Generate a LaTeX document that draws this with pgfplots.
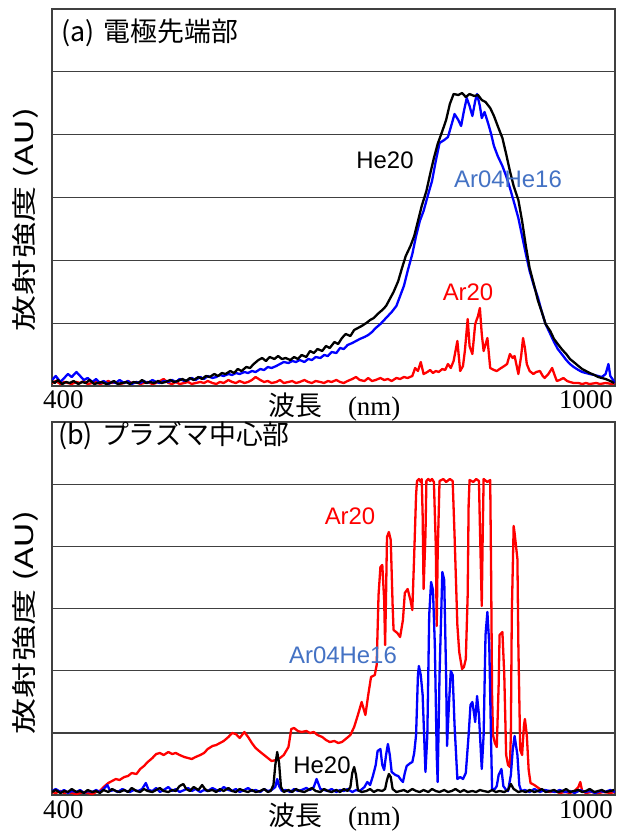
\documentclass[border=0pt]{standalone}
\usepackage{pgfplots}
\pgfplotsset{compat=1.18}
\usepackage{fontspec}
\setmainfont{Liberation Serif}
\newfontfamily\cjk{Noto Sans CJK JP}
\newfontfamily\arial{Liberation Sans}
\definecolor{lblblue}{HTML}{4472C4}
\definecolor{framegray}{HTML}{404040}
\pgfplotsset{
  myax/.style={
    scale only axis, width=563bp,
    xmin=400, xmax=1000, ymin=0,
    xtick=\empty, yticklabels={}, major tick length=0pt,
    ymajorgrids, grid style={line width=1.4bp, color=framegray},
    axis line style={line width=1.5bp, color=framegray},
    every axis plot/.append style={line width=2.3bp, line join=round, mark=none},
  }
}
\begin{document}
\begin{tikzpicture}
\path[use as bounding box] (0bp,0bp) rectangle (618bp,-835bp);
% ---------------- (a) ----------------
\begin{axis}[myax, at={(52bp,-386bp)}, anchor=south west, height=377bp, ymax=377,
  ytick={62.8,125.7,188.5,251.3,314.2}]
\addplot[red] coordinates {(400,3) (404,5) (409,2) (413,4) (417,3) (421,2) (426,4) (430,3) (434,5) (438,2) (443,3) (447,4) (451,2) (455,3) (460,5) (464,3) (468,4) (472,2) (477,3) (481,5) (485,3) (490,4) (494,2) (498,3) (502,4) (507,2) (511,3) (515,5) (519,7) (524,3) (528,2) (532,4) (536,2) (541,3) (545,4) (549,2) (553,3) (558,4) (562,3) (566,5) (571,3) (575,2) (579,4) (583,3) (588,6) (592,4) (596,3) (600,5) (605,3) (609,4) (613,6) (617,9) (622,6) (626,4) (630,5) (634,3) (639,4) (643,6) (647,3) (652,4) (656,5) (660,3) (664,4) (669,6) (673,4) (677,3) (681,5) (686,4) (690,3) (694,5) (698,4) (703,6) (707,4) (711,3) (715,5) (720,7) (724,9) (728,6) (733,5) (737,8) (741,5) (745,6) (750,8) (754,6) (758,7) (762,5) (767,8) (771,7) (775,9) (779,8) (784,10) (787,18) (790,15) (793,24) (796,12) (800,14) (803,16) (806,13) (809,15) (812,14) (816,17) (819,16) (822,22) (825,18) (828,25) (832,45) (835,15) (838,20) (840,35) (843,67) (845,40) (848,32) (851,62) (854,70) (856,78) (858,52) (860,35) (864,48) (867,18) (871,16) (874,15) (877,17) (882,20) (885,22) (888,32) (891,28) (893,30) (897,12) (900,30) (902,48) (904,38) (906,22) (909,15) (913,12) (916,14) (920,15) (923,10) (925,8) (929,12) (933,18) (936,10) (938,5) (941,6) (945,8) (949,5) (952,4) (956,3) (961,3) (965,2) (969,3) (973,2) (980,3) (984,2) (990,3) (997,2) (1000,3)};
\addplot[blue] coordinates {(400,6) (404,10) (409,4) (413,8) (417,12) (421,9) (426,14) (430,10) (434,6) (438,8) (443,4) (447,7) (451,3) (455,5) (460,2) (464,4) (468,3) (472,6) (477,3) (481,5) (485,2) (490,4) (494,3) (498,5) (502,3) (507,6) (511,4) (515,3) (519,5) (524,4) (528,6) (532,4) (536,7) (541,5) (545,6) (549,8) (553,6) (558,9) (562,7) (566,10) (571,8) (575,9) (579,11) (583,10) (588,12) (592,11) (596,13) (600,12) (605,14) (609,13) (613,15) (617,14) (622,17) (626,16) (630,19) (634,18) (639,20) (643,22) (647,24) (652,23) (656,25) (660,24) (664,26) (669,24) (673,27) (677,26) (681,29) (686,28) (690,31) (694,30) (698,34) (703,33) (707,38) (711,37) (715,41) (720,43) (724,45) (728,47) (733,49) (737,51) (741,54) (745,58) (750,62) (754,66) (758,70) (762,74) (767,80) (771,90) (775,100) (779,115) (784,132) (788,150) (792,165) (796,175) (801,192) (805,205) (809,225) (813,243) (818,246) (822,249) (826,262) (829,272) (833,266) (836,260) (839,275) (842,288) (845,280) (848,270) (851,285) (853,292) (856,280) (858,268) (861,274) (865,262) (868,252) (871,240) (875,230) (880,220) (884,210) (888,198) (892,185) (897,168) (901,150) (905,132) (909,115) (913,102) (918,88) (922,74) (926,62) (931,52) (935,44) (939,37) (944,31) (948,26) (952,22) (956,19) (961,16) (965,14) (969,13) (973,12) (978,11) (982,10) (986,9) (990,12) (993,22) (995,10) (998,6) (1000,3)};
\addplot[black] coordinates {(400,5) (403,3) (406,6) (411,2) (415,4) (419,3) (423,5) (428,2) (432,4) (436,3) (440,6) (445,2) (449,3) (453,4) (458,2) (462,3) (466,5) (470,2) (475,3) (479,4) (483,2) (487,4) (492,3) (496,6) (500,3) (504,4) (509,3) (513,5) (517,3) (521,4) (526,6) (530,4) (534,5) (539,7) (543,5) (547,8) (551,6) (556,9) (560,7) (564,10) (568,9) (573,12) (577,10) (581,13) (585,12) (590,15) (594,13) (598,17) (602,15) (607,19) (611,18) (615,22) (620,26) (624,28) (628,25) (632,29) (637,27) (641,30) (645,27) (649,28) (654,26) (658,29) (662,27) (666,31) (671,29) (675,35) (679,33) (683,37) (688,35) (692,40) (696,38) (701,44) (705,42) (709,48) (713,52) (718,50) (722,56) (726,58) (730,60) (735,63) (739,66) (743,68) (747,72) (752,76) (756,80) (760,87) (764,94) (769,105) (773,118) (777,130) (782,140) (786,150) (790,165) (794,180) (799,195) (803,212) (807,228) (811,242) (816,255) (820,266) (824,282) (828,292) (833,291) (837,293) (841,289) (845,292) (850,290) (854,291) (858,286) (862,284) (867,278) (871,270) (875,260) (880,248) (884,232) (888,215) (892,200) (897,186) (901,165) (905,140) (909,118) (914,100) (918,85) (922,74) (926,62) (931,55) (935,47) (939,42) (944,36) (948,32) (952,27) (956,24) (961,20) (965,17) (969,15) (973,13) (978,11) (982,9) (986,8) (990,7) (995,5) (999,3)};
\end{axis}
% ---------------- (b) ----------------
\begin{axis}[myax, at={(52bp,-795bp)}, anchor=south west, height=373bp, ymax=373,
  ytick={62.2,124.3,186.5,248.7,310.8}]
\addplot[red] coordinates {(400,3) (404,2) (409,4) (413,2) (417,3) (421,2) (426,1) (430,2) (434,3) (438,2) (443,1) (447,3) (451,4) (455,8) (460,12) (464,14) (468,16) (472,15) (477,18) (481,19) (485,22) (490,21) (494,26) (498,29) (502,33) (507,37) (511,41) (515,42) (519,40) (524,43) (528,41) (532,42) (536,40) (541,38) (545,37) (549,36) (553,38) (558,40) (562,42) (566,46) (571,49) (575,50) (579,52) (583,54) (588,58) (592,62) (596,61) (600,57) (605,63) (609,58) (613,52) (617,47) (622,43) (626,40) (630,37) (634,34) (639,35) (643,37) (647,40) (652,48) (655,66) (658,67) (662,64) (666,63) (671,64) (675,62) (679,63) (683,60) (688,58) (692,55) (696,53) (701,54) (705,52) (709,53) (713,56) (718,60) (722,68) (726,80) (730,93) (734,80) (737,100) (740,118) (744,120) (746,130) (748,200) (750,228) (752,230) (754,195) (755,150) (756,200) (757,258) (759,263) (761,255) (763,190) (764,165) (768,162) (771,158) (774,175) (776,202) (779,206) (782,195) (784,185) (786,240) (788,300) (789,314) (791,316) (793,313) (794,316) (795,280) (796,206) (798,260) (799,314) (801,316) (803,314) (805,316) (807,313) (809,250) (810,169) (811,240) (813,314) (817,316) (820,313) (824,316) (827,314) (829,260) (832,170) (834,143) (837,126) (839,128) (841,136) (843,200) (844,290) (845,315) (849,313) (852,316) (855,314) (856,270) (858,189) (859,260) (860,316) (864,313) (867,315) (868,220) (869,100) (870,60) (872,52) (874,48) (876,110) (877,160) (880,163) (882,120) (884,40) (886,30) (888,28) (889,60) (890,180) (892,269) (893,262) (896,236) (897,150) (899,45) (901,40) (903,70) (904,76) (906,60) (908,25) (910,12) (914,10) (917,8) (920,6) (923,5) (926,4) (931,3) (936,4) (941,2) (947,3) (952,2) (957,4) (961,8) (963,13) (965,4) (969,2) (975,3) (982,2) (988,3) (995,2) (1000,3)};
\addplot[blue] coordinates {(400,4) (404,6) (409,3) (413,5) (417,2) (421,4) (426,3) (430,5) (434,2) (438,4) (443,3) (447,5) (451,3) (455,6) (459,10) (462,4) (466,5) (470,3) (475,6) (479,4) (483,3) (487,5) (492,4) (496,6) (500,12) (503,5) (507,4) (511,7) (515,3) (519,5) (524,8) (528,4) (532,6) (536,3) (541,5) (545,7) (549,4) (553,6) (558,3) (562,5) (566,4) (571,7) (575,5) (579,4) (583,8) (588,5) (592,4) (596,6) (600,3) (605,5) (609,7) (613,4) (617,5) (622,3) (626,6) (630,4) (634,5) (638,8) (640,16) (642,9) (645,4) (649,5) (654,3) (658,6) (662,4) (666,5) (671,7) (675,5) (679,8) (682,16) (686,6) (690,5) (694,4) (698,6) (703,3) (707,5) (711,4) (715,6) (720,3) (724,5) (728,4) (733,8) (736,13) (739,10) (742,19) (745,30) (747,44) (750,46) (752,30) (754,25) (756,40) (758,51) (760,40) (762,23) (766,20) (769,19) (772,15) (774,13) (776,22) (778,29) (782,32) (784,33) (786,42) (788,60) (790,120) (791,129) (793,120) (795,100) (798,23) (800,60) (802,180) (804,213) (806,205) (808,150) (810,40) (811,13) (813,120) (816,223) (818,215) (820,120) (821,49) (823,90) (825,124) (827,120) (829,70) (832,16) (835,18) (838,16) (841,22) (844,60) (846,90) (848,93) (850,80) (851,73) (853,99) (855,80) (858,26) (860,60) (862,160) (864,183) (866,150) (868,50) (869,6) (872,6) (874,9) (876,20) (879,26) (881,9) (884,5) (886,4) (889,20) (891,45) (893,59) (896,40) (898,10) (900,4) (904,5) (909,3) (914,6) (920,3) (925,5) (931,4) (936,3) (941,5) (947,3) (952,4) (957,2) (963,5) (968,3) (973,4) (979,2) (984,4) (989,3) (995,5) (1000,3)};
\addplot[black] coordinates {(400,3) (404,5) (409,2) (413,4) (417,3) (421,6) (426,3) (430,4) (434,2) (438,5) (443,3) (447,4) (451,2) (455,5) (460,3) (464,6) (468,4) (472,3) (477,5) (481,3) (485,7) (490,4) (494,3) (498,6) (502,4) (507,3) (511,5) (515,7) (519,4) (524,3) (528,5) (532,4) (536,9) (540,11) (543,6) (547,4) (551,8) (556,5) (560,10) (563,6) (566,4) (571,5) (575,3) (579,6) (583,4) (588,7) (592,4) (596,3) (600,6) (605,4) (609,3) (613,5) (617,3) (622,4) (626,6) (630,3) (633,4) (636,10) (638,30) (640,43) (642,32) (644,8) (647,3) (652,5) (656,3) (660,6) (664,4) (669,3) (673,5) (677,7) (681,4) (686,3) (690,6) (694,4) (698,3) (703,5) (707,3) (711,6) (715,4) (718,8) (720,22) (722,28) (724,20) (726,5) (730,3) (735,4) (739,6) (743,3) (747,5) (752,4) (755,6) (757,15) (759,21) (761,18) (763,6) (767,3) (771,4) (775,5) (779,3) (784,6) (788,4) (792,3) (796,5) (801,3) (805,6) (809,4) (813,3) (818,5) (822,3) (826,4) (830,6) (835,3) (839,5) (843,3) (848,4) (852,3) (856,5) (860,4) (865,3) (869,5) (873,3) (877,4) (882,3) (886,5) (889,11) (892,6) (897,3) (901,4) (905,3) (909,5) (914,3) (918,4) (922,6) (926,3) (931,4) (935,5) (939,3) (944,4) (948,6) (952,3) (956,4) (961,5) (965,3) (969,4) (973,6) (978,3) (982,4) (986,5) (990,3) (995,4) (999,5)};
\end{axis}
% ---------------- texts ----------------
\node[anchor=west, inner sep=0pt, font=\cjk\fontsize{27}{30}\selectfont] at (61bp,-33bp) {(a)\hspace{3bp} 電極先端部};
\node[anchor=west, inner sep=0pt, font=\cjk\fontsize{27}{30}\selectfont] at (58bp,-436bp) {(b)\hspace{3bp} プラズマ中心部};
\node[rotate=90, inner sep=0pt, font=\cjk\fontsize{25}{28}\selectfont] at (25.5bp,-219bp) {\scalebox{1.45}[1]{放射強度 (AU)}};
\node[rotate=90, inner sep=0pt, font=\cjk\fontsize{25}{28}\selectfont] at (25.5bp,-622bp) {\scalebox{1.45}[1]{放射強度 (AU)}};
% x labels
\node[anchor=base west, inner sep=0pt, font=\fontsize{27}{30}\selectfont] at (43bp,-408bp) {400};
\node[anchor=base east, inner sep=0pt, font=\fontsize{27}{30}\selectfont] at (613bp,-408bp) {1000};
\node[anchor=base west, inner sep=0pt, font=\fontsize{27}{30}\selectfont] at (268bp,-415bp) {{\cjk 波長}\hspace{26bp}(nm)};
\node[anchor=base west, inner sep=0pt, font=\fontsize{27}{30}\selectfont] at (43bp,-818bp) {400};
\node[anchor=base east, inner sep=0pt, font=\fontsize{27}{30}\selectfont] at (613bp,-818bp) {1000};
\node[anchor=base west, inner sep=0pt, font=\fontsize{27}{30}\selectfont] at (268bp,-825bp) {{\cjk 波長}\hspace{26bp}(nm)};
% series labels
\node[inner sep=0pt, font=\arial\fontsize{24}{26}\selectfont, text=black] at (385bp,-160bp) {He20};
\node[inner sep=0pt, font=\arial\fontsize{24}{26}\selectfont, text=lblblue] at (508bp,-179bp) {Ar04He16};
\node[inner sep=0pt, font=\arial\fontsize{24}{26}\selectfont, text=red] at (468bp,-292bp) {Ar20};
\node[inner sep=0pt, font=\arial\fontsize{24}{26}\selectfont, text=red] at (350bp,-516bp) {Ar20};
\node[inner sep=0pt, font=\arial\fontsize{24}{26}\selectfont, text=lblblue] at (343bp,-655bp) {Ar04He16};
\node[inner sep=0pt, font=\arial\fontsize{24}{26}\selectfont, text=black] at (322bp,-765bp) {He20};
\end{tikzpicture}
\end{document}
